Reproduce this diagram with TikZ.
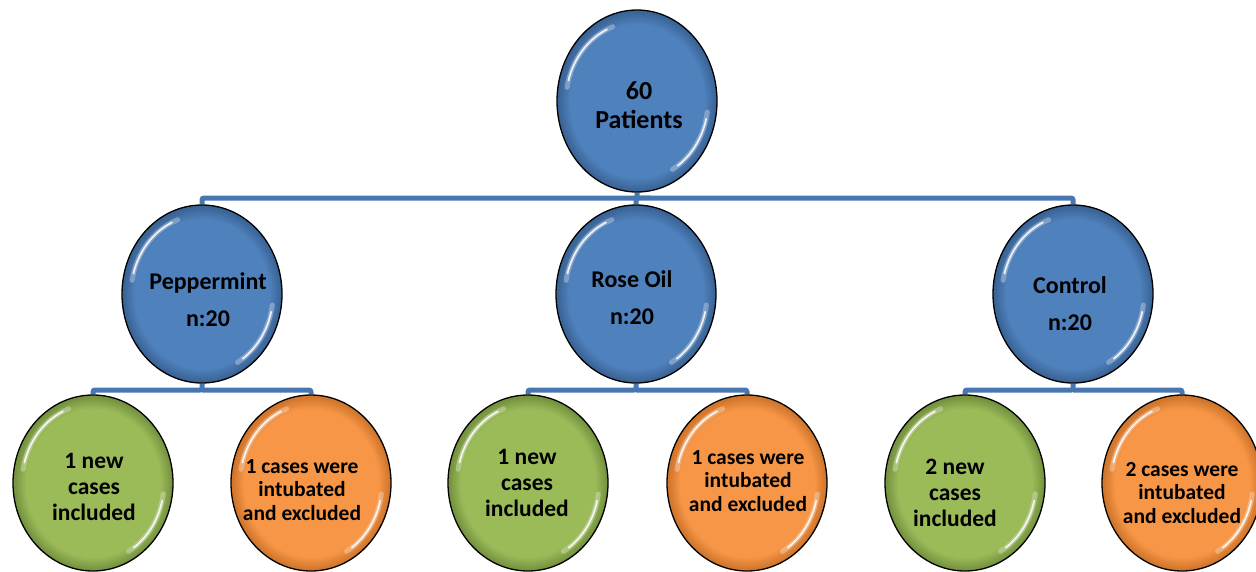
\documentclass[tikz,border=0pt]{standalone}
\usepackage{fontspec}
\setmainfont{Carlito}
\usetikzlibrary{shapes.geometric,backgrounds}
\definecolor{blueC}{RGB}{79,129,189}
\definecolor{blueD}{RGB}{58,100,150}
\definecolor{greenC}{RGB}{155,187,89}
\definecolor{greenD}{RGB}{118,148,64}
\definecolor{orangeC}{RGB}{247,150,70}
\definecolor{orangeD}{RGB}{208,118,45}
\definecolor{connC}{RGB}{71,118,176}
\pgfdeclareradialshading{ballB}{\pgfpoint{0bp}{0bp}}{color(0bp)=(blueC); color(21bp)=(blueC); color(24.5bp)=(blueD); color(25bp)=(blueD); color(50bp)=(blueD)}
\pgfdeclareradialshading{ballG}{\pgfpoint{0bp}{0bp}}{color(0bp)=(greenC); color(21bp)=(greenC); color(24.5bp)=(greenD); color(25bp)=(greenD); color(50bp)=(greenD)}
\pgfdeclareradialshading{ballO}{\pgfpoint{0bp}{0bp}}{color(0bp)=(orangeC); color(21bp)=(orangeC); color(24.5bp)=(orangeD); color(25bp)=(orangeD); color(50bp)=(orangeD)}
\tikzset{
  ball/.style={ellipse, draw=black, line width=1.3, minimum width=160, minimum height=176, inner sep=0},
  bball/.style={ball, shading=ballB},
  gball/.style={ball, shading=ballG},
  oball/.style={ball, shading=ballO},
  btxt/.style={align=center, inner sep=0, font=\bfseries\fontsize{24}{28}\selectfont},
  gtxt/.style={align=center, inner sep=0, font=\bfseries\fontsize{23.5}{26}\selectfont},
  otxt/.style={align=center, inner sep=0, font=\bfseries\fontsize{21.5}{23.5}\selectfont},
  conn/.style={draw=connC, line width=5, rounded corners=2},
  hlw/.style={white, opacity=0.3, line width=5, line cap=round},
  hln/.style={white, opacity=0.85, line width=1.8, line cap=round},
}
\newcommand\glossy[1]{%
  \draw[hlw] (#1.center) ++(110:71 and 79) arc[start angle=110, end angle=170, x radius=71, y radius=79];
  \draw[hln] (#1.center) ++(115:71 and 79) arc[start angle=115, end angle=165, x radius=71, y radius=79];
  \draw[hlw] (#1.center) ++(-8:71 and 79) arc[start angle=-8, end angle=-60, x radius=71, y radius=79];
  \draw[hln] (#1.center) ++(-13:71 and 79) arc[start angle=-13, end angle=-55, x radius=71, y radius=79];
}
\begin{document}
\begin{tikzpicture}[x=1pt,y=1pt]
\useasboundingbox (0,0) rectangle (1256,-571);
% circles
\node[bball, minimum height=182] (pat) at (637,-101) {};
\node[bball, minimum height=178] (pep) at (202,-294) {};
\node[bball, minimum height=178] (rose) at (636,-294) {};
\node[bball, minimum height=178] (ctrl) at (1073,-294) {};
\node[gball] (g1) at (93,-483) {};
\node[oball] (o1) at (311,-483) {};
\node[gball] (g2) at (528,-483) {};
\node[oball] (o2) at (747,-483) {};
\node[gball] (g3) at (965,-483) {};
\node[oball] (o3) at (1182,-483) {};
\foreach \n in {pat,pep,rose,ctrl,g1,o1,g2,o2,g3,o3}{\glossy{\n}}
% texts
\node[btxt, font=\bfseries\fontsize{26}{29}\selectfont] (patT) at (639,-105) {60\\Patients};
\node[btxt] (pepT) at (208,-300) {Peppermint\\[9pt]n:20};
\node[btxt] (roseT) at (632,-298) {Rose Oil\\[9pt]n:20};
\node[btxt] (ctrlT) at (1070,-304) {Control\\[9pt]n:20};
\node[gtxt] (g1T) at (94,-487) {1 new\\cases\\included};
\node[otxt] (o1T) at (302,-490) {1 cases were\\intubated\\and excluded};
\node[gtxt] (g2T) at (527,-483) {1 new\\cases\\included};
\node[otxt] (o2T) at (748,-481) {1 cases were\\intubated\\and excluded};
\node[gtxt] (g3T) at (955,-493) {2 new\\cases\\included};
\node[otxt] (o3T) at (1182,-493) {2 cases were\\intubated\\and excluded};
% connectors
\begin{scope}[on background layer]
\coordinate (barA) at (0,-198);
\coordinate (barB) at (0,-390);
\draw[conn] (pat.south) -- (pat.south |- barA) -| (pep.north);
\draw[conn] (pat.south |- barA) -| (rose.north);
\draw[conn] (pat.south |- barA) -| (ctrl.north);
\draw[conn] (pep.south) -- (pep.south |- barB) -| (g1.north);
\draw[conn] (pep.south |- barB) -| (o1.north);
\draw[conn] (rose.south) -- (rose.south |- barB) -| (g2.north);
\draw[conn] (rose.south |- barB) -| (o2.north);
\draw[conn] (ctrl.south) -- (ctrl.south |- barB) -| (g3.north);
\draw[conn] (ctrl.south |- barB) -| (o3.north);
\end{scope}
\end{tikzpicture}
\end{document}
